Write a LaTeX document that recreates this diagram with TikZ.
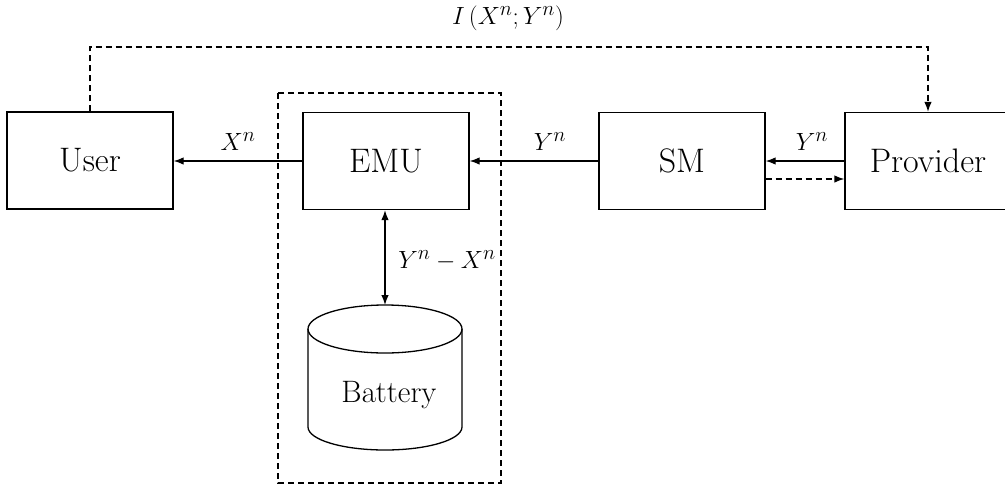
\documentclass[tikz,border=0pt]{standalone}
\usetikzlibrary{arrows.meta,calc}
\begin{document}
\begin{tikzpicture}[x=1pt,y=-1pt,
  box/.style={draw, line width=1.3pt, minimum width=166pt, minimum height=97pt, inner sep=0pt, font=\fontsize{34}{40}\selectfont},
  lbl/.style={inner sep=0pt, font=\fontsize{30}{36}\selectfont},
  arr/.style={line width=1.3pt, -{Latex[length=10pt,width=7.5pt]}},
  darr/.style={line width=1.3pt, {Latex[length=10pt,width=7.5pt]}-{Latex[length=10pt,width=7.5pt]}},
  dsh/.style={dash pattern=on 6pt off 4pt}]
\useasboundingbox (0,0) rectangle (1005,488);
% container
\draw[dsh, line width=1.3pt] (278,93) rectangle (501,483);
% boxes
\node[box] (user) at (90,160.5) {User};
\node[box] (emu) at (386,161) {EMU};
\node[box] (sm) at (682,161) {SM};
\node[box] (prov) at (928,161) {Provider};
% battery
\coordinate (battop) at (385,305);
\draw[line width=1.3pt] (385,329) ellipse [x radius=77pt, y radius=24pt];
\draw[line width=1.3pt] (308,329) -- (308,427) arc[start angle=180, end angle=360, x radius=77pt, y radius=23pt] -- (462,329);
\node[inner sep=0pt, font=\fontsize{31}{37}\selectfont] (batt) at (389,395) {Battery};
% arrows
\draw[arr] (emu.west) -- (emu.west -| user.east);
\draw[arr] (sm.west) -- (sm.west -| emu.east);
\draw[arr] (prov.west) -- (prov.west -| sm.east);
\draw[arr, dsh] ([yshift=-18pt]sm.east) -- ([yshift=-18pt]sm.east -| prov.west);
\draw[darr] (emu.south -| battop) -- (battop);
\coordinate (top) at (0,47);
\draw[arr, dsh] (user.north) -- (user.north |- top) -| (prov.north);
% labels
\node[lbl] (lx) at (238,142) {$X^n$};
\node[lbl] (ly1) at (550,142) {$Y^n$};
\node[lbl] (ly2) at (812,142) {$Y^n$};
\node[lbl] (lyx) at (447,261) {$Y^n-X^n$};
\node[lbl] (li) at (508,18) {$I\left(X^n;Y^n\right)$};
\end{tikzpicture}
\end{document}
